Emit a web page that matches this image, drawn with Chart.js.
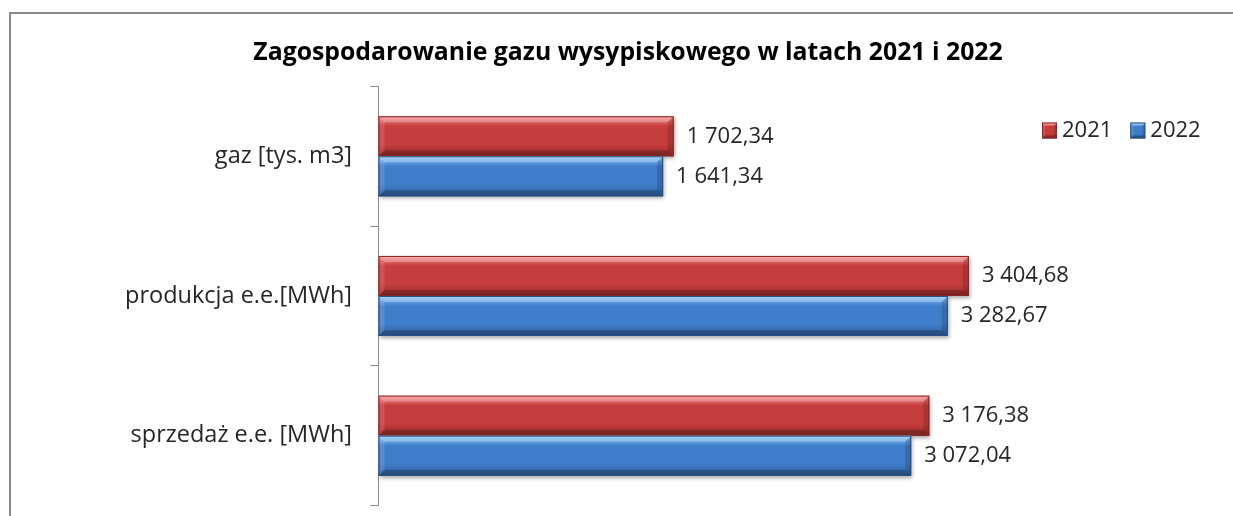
<!doctype html>
<html lang="pl">
<head>
  <meta charset="utf-8">
  <title>Zagospodarowanie gazu wysypiskowego</title>
  <style>
    * { margin: 0; padding: 0; }
    body { background: white; overflow: hidden; font-family: 'Open Sans', sans-serif; }
    .chartBox {
      position: absolute;
      left: 9px;
      top: 12px;
      width: 1234px;
      height: 510px;
      border: solid 2px #8a8a8a;
      background: white;
    }
    canvas { display: block; }
  </style>
</head>
<body>
  <div class="chartBox">
    <canvas id="myChart" width="1234" height="510"></canvas>
  </div>

  <script src="https://cdn.jsdelivr.net/npm/chart.js"></script>
  <script>
    // data
    const categories = ['gaz [tys. m3]', 'produkcja e.e.[MWh]', 'sprzedaż e.e. [MWh]'];
    const seriesNames = ['2021', '2022'];
    const values2021 = [1702.34, 3404.68, 3176.38];
    const values2022 = [1641.34, 3282.67, 3072.04];

    // colours for the bevelled bars: light, mid, dark, border
    const redShades = ['#f58c8c', '#c63d3d', '#962b2b', '#8a2626'];
    const blueShades = ['#8cc8fa', '#3f7ecb', '#2c5c98', '#2b4f7e'];

    // polish number format: 1 702,34
    function fmt(v) {
      const parts = v.toFixed(2).split('.');
      const int = parts[0].replace(/\B(?=(\d{3})+(?!\d))/g, ' ');
      return int + ',' + parts[1];
    }

    // bevelled box, used for the bars and the legend squares
    function bevelBox(ctx, l, t, r, b, sh, e, shadow) {
      ctx.save();
      if (shadow) {
        ctx.shadowColor = 'rgba(0,0,0,0.35)';
        ctx.shadowBlur = 4;
        ctx.shadowOffsetX = 1;
        ctx.shadowOffsetY = 2;
      }
      const g = ctx.createLinearGradient(0, t, 0, b);
      g.addColorStop(0, sh[0]);
      g.addColorStop(0.25, sh[1]);
      g.addColorStop(0.7, sh[1]);
      g.addColorStop(1, sh[2]);
      ctx.fillStyle = g;
      ctx.fillRect(l, t, r - l, b - t);
      ctx.shadowColor = 'transparent';
      // top bevel
      ctx.fillStyle = 'rgba(255,255,255,0.25)';
      ctx.beginPath();
      ctx.moveTo(l, t); ctx.lineTo(r, t); ctx.lineTo(r - e, t + e); ctx.lineTo(l + e, t + e);
      ctx.closePath(); ctx.fill();
      // bottom bevel
      ctx.fillStyle = 'rgba(0,0,0,0.2)';
      ctx.beginPath();
      ctx.moveTo(l, b); ctx.lineTo(r, b); ctx.lineTo(r - e, b - e); ctx.lineTo(l + e, b - e);
      ctx.closePath(); ctx.fill();
      // right bevel
      ctx.fillStyle = 'rgba(0,0,0,0.14)';
      ctx.beginPath();
      ctx.moveTo(r, t); ctx.lineTo(r, b); ctx.lineTo(r - e, b - e); ctx.lineTo(r - e, t + e);
      ctx.closePath(); ctx.fill();
      // left bevel
      ctx.fillStyle = 'rgba(255,255,255,0.12)';
      ctx.beginPath();
      ctx.moveTo(l, t); ctx.lineTo(l, b); ctx.lineTo(l + e, b - e); ctx.lineTo(l + e, t + e);
      ctx.closePath(); ctx.fill();
      // outline
      ctx.strokeStyle = sh[3];
      ctx.lineWidth = 1;
      ctx.strokeRect(l + 0.5, t + 0.5, r - l - 1, b - t - 1);
      ctx.restore();
    }

    // draws the excel-like bars, values and the legend
    const bevelPlugin = {
      id: 'bevel',
      afterDatasetsDraw(chart) {
        const ctx = chart.ctx;
        const area = chart.chartArea;
        chart.data.datasets.forEach((ds, di) => {
          const meta = chart.getDatasetMeta(di);
          const sh = di === 0 ? redShades : blueShades;
          meta.data.forEach((bar, i) => {
            const p = bar.getProps(['x', 'y', 'base', 'height'], true);
            bevelBox(ctx, p.base, p.y - p.height / 2, p.x, p.y + p.height / 2, sh, 6, true);
            ctx.save();
            ctx.fillStyle = '#262626';
            ctx.font = '22px "Open Sans"';
            ctx.textAlign = 'left';
            ctx.textBaseline = 'middle';
            ctx.fillText(fmt(ds.data[i]), p.x + 13, p.y);
            ctx.restore();
          });
        });

        // legend, top right
        ctx.save();
        ctx.font = '22px "Open Sans"';
        ctx.textBaseline = 'middle';
        ctx.textAlign = 'left';
        ctx.fillStyle = '#262626';
        let x = area.right - 181;
        const cy = area.top + 44;
        chart.data.datasets.forEach((ds, di) => {
          const sh = di === 0 ? redShades : blueShades;
          bevelBox(ctx, x, cy - 8, x + 15, cy + 8, sh, 3, false);
          ctx.fillStyle = '#262626';
          ctx.fillText(ds.label, x + 20, cy);
          x += 20 + ctx.measureText(ds.label).width + 18;
        });
        ctx.restore();
      }
    };

    Chart.defaults.font.family = '"Open Sans", sans-serif';
    Chart.defaults.color = '#262626';

    const data = {
      labels: categories,
      datasets: [{
        label: seriesNames[0],
        data: values2021,
        backgroundColor: redShades[1],
        borderColor: redShades[3],
        borderWidth: 1
      }, {
        label: seriesNames[1],
        data: values2022,
        backgroundColor: blueShades[1],
        borderColor: blueShades[3],
        borderWidth: 1
      }]
    };

    const config = {
      type: 'bar',
      data,
      options: {
        indexAxis: 'y',
        responsive: false,
        animation: false,
        categoryPercentage: 0.573,
        barPercentage: 1,
        layout: {
          padding: { left: 22, right: 22, top: 0, bottom: 18.5 }
        },
        scales: {
          x: {
            display: false,
            min: 0,
            max: 4870
          },
          y: {
            afterFit(scale) {
              scale.width = 345.5;
              scale.paddingTop = 0;
              scale.paddingBottom = 0;
            },
            grid: {
              offset: true,
              drawOnChartArea: false,
              drawTicks: true,
              tickLength: 8,
              color: '#8a8a8a'
            },
            border: { display: true, color: '#8a8a8a', width: 1 },
            ticks: {
              padding: 18.5,
              color: '#262626',
              font: { size: 23.5 }
            }
          }
        },
        plugins: {
          title: {
            display: true,
            text: 'Zagospodarowanie gazu wysypiskowego w latach 2021 i 2022',
            color: 'black',
            font: { size: 24.8, weight: 'bold' },
            padding: { top: 24.2, bottom: 18.5 }
          },
          legend: { display: false },
          tooltip: { enabled: false }
        }
      },
      plugins: [bevelPlugin]
    };

    const myChart = new Chart(document.getElementById('myChart'), config);
  </script>
</body>
</html>
